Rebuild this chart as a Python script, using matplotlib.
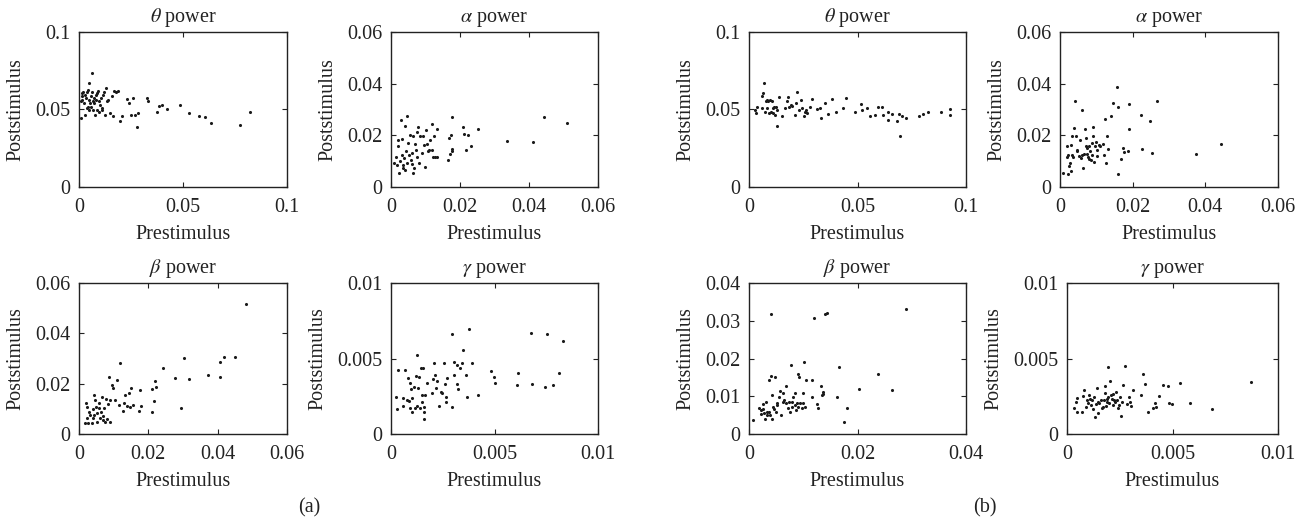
import matplotlib
matplotlib.use("Agg")
import matplotlib.pyplot as plt

plt.rcParams['font.family'] = ['Liberation Serif', 'DejaVu Serif']
plt.rcParams['mathtext.fontset'] = 'stix'

# ---------------- data ----------------
# Panel (a)
a_theta_x = [0.001, 0.0014, 0.0016, 0.0021, 0.0013, 0.001, 0.003, 0.0037, 0.004, 0.0043, 0.0045, 0.005,
             0.0053, 0.0056, 0.0061, 0.0064, 0.0066, 0.0069, 0.0074, 0.0077, 0.0082, 0.0085, 0.0088, 0.0093,
             0.0096, 0.0101, 0.0106, 0.0112, 0.0117, 0.0122, 0.0125, 0.013, 0.0133, 0.0138, 0.0149, 0.0157,
             0.0162, 0.0169, 0.0177, 0.0189, 0.0197, 0.0205, 0.023, 0.0238, 0.025, 0.0262, 0.027, 0.0281,
             0.0286, 0.0329, 0.0334, 0.0377, 0.0387, 0.0398, 0.0422, 0.0486, 0.053, 0.0575, 0.0607, 0.0634,
             0.0775, 0.0823, 0.0024, 0.0034, 0.0047, 0.0059, 0.0072, 0.008, 0.0095, 0.0109, 0.005, 0.0029]
a_theta_y = [0.0444, 0.0562, 0.0605, 0.0616, 0.0584, 0.0558, 0.0466, 0.061, 0.0509, 0.0519, 0.0627, 0.067,
             0.0541, 0.0584, 0.0616, 0.0734, 0.0552, 0.0498, 0.0573, 0.0466, 0.0562, 0.0498, 0.0605, 0.0622,
             0.0481, 0.053, 0.0573, 0.0509, 0.0594, 0.061, 0.0466, 0.0637, 0.0552, 0.0562, 0.0476, 0.0584,
             0.0455, 0.0622, 0.0612, 0.0622, 0.0423, 0.0459, 0.0567, 0.0541, 0.0466, 0.0571, 0.0466, 0.0384,
             0.0476, 0.0573, 0.0552, 0.0487, 0.0524, 0.053, 0.0502, 0.053, 0.0476, 0.0461, 0.0451, 0.0412,
             0.0401, 0.0481, 0.0541, 0.0573, 0.0562, 0.0515, 0.0541, 0.0594, 0.0552, 0.0498, 0.0498, 0.0594]

a_alpha_x = [0.001, 0.0016, 0.0019, 0.0021, 0.0023, 0.0026, 0.0028, 0.0031, 0.0031, 0.0034, 0.0036, 0.0038,
             0.0041, 0.0042, 0.0045, 0.0047, 0.005, 0.0052, 0.0055, 0.0057, 0.006, 0.0063, 0.0065, 0.0067,
             0.0069, 0.0072, 0.0074, 0.0077, 0.008, 0.0084, 0.0089, 0.0092, 0.0096, 0.0098, 0.0101, 0.0103,
             0.0106, 0.0111, 0.0118, 0.012, 0.0123, 0.0125, 0.0128, 0.0132, 0.0134, 0.0166, 0.0167, 0.0171,
             0.0173, 0.0176, 0.0178, 0.0178, 0.0209, 0.0211, 0.0217, 0.0224, 0.0233, 0.0253, 0.0335, 0.0412,
             0.0444, 0.051, 0.0014, 0.0044, 0.0076, 0.0113, 0.006]
a_alpha_y = [0.0093, 0.0086, 0.0183, 0.0157, 0.0054, 0.0099, 0.026, 0.0185, 0.0125, 0.0084, 0.0073, 0.0112,
             0.0067, 0.0238, 0.0276, 0.0093, 0.017, 0.0125, 0.0202, 0.0106, 0.009, 0.0054, 0.0198, 0.0073,
             0.0166, 0.0144, 0.0211, 0.0234, 0.0093, 0.0196, 0.0131, 0.0196, 0.0164, 0.0076, 0.0221, 0.0167,
             0.0138, 0.0142, 0.0144, 0.0243, 0.0118, 0.0196, 0.0116, 0.0116, 0.0225, 0.0106, 0.0189, 0.0129,
             0.0202, 0.0147, 0.027, 0.0138, 0.0232, 0.0206, 0.0144, 0.0202, 0.016, 0.0225, 0.0179, 0.0175,
             0.027, 0.0246, 0.0118, 0.0138, 0.0118, 0.0183, 0.0131]

a_beta_x = [0.0482, 0.0451, 0.0419, 0.0407, 0.0407, 0.0372, 0.0318, 0.0303, 0.0295, 0.0277, 0.0241, 0.0219,
            0.0221, 0.0217, 0.021, 0.0211, 0.0176, 0.0178, 0.0174, 0.0157, 0.015, 0.0145, 0.0147, 0.0138,
            0.0133, 0.013, 0.0126, 0.0117, 0.0114, 0.0111, 0.0104, 0.0099, 0.0094, 0.009, 0.0087, 0.0085,
            0.0082, 0.0078, 0.0075, 0.0072, 0.0068, 0.0065, 0.0064, 0.0061, 0.0058, 0.0053, 0.0051, 0.0049,
            0.0046, 0.0044, 0.0041, 0.0039, 0.0037, 0.0032, 0.003, 0.0027, 0.0024, 0.0022, 0.002, 0.0017,
            0.0044, 0.007, 0.0059, 0.009]
a_beta_y = [0.0515, 0.0304, 0.0304, 0.0287, 0.0225, 0.0234, 0.0217, 0.0301, 0.0103, 0.0221, 0.0264, 0.0209,
            0.0188, 0.013, 0.018, 0.0086, 0.0174, 0.0111, 0.0093, 0.0115, 0.0181, 0.0161, 0.0108, 0.0111,
            0.0155, 0.0122, 0.0093, 0.0284, 0.0115, 0.0214, 0.0135, 0.0181, 0.0194, 0.0049, 0.0227, 0.0119,
            0.0058, 0.0141, 0.0049, 0.0102, 0.0071, 0.0148, 0.0089, 0.0062, 0.0122, 0.0082, 0.0049, 0.0108,
            0.0135, 0.0075, 0.0062, 0.0098, 0.0045, 0.0075, 0.0089, 0.0045, 0.0108, 0.0065, 0.0124, 0.0042,
            0.0155, 0.0056, 0.0102, 0.0135]

a_gamma_x = [0.00024, 0.00027, 0.00035, 0.00056, 0.00059, 0.00068, 0.00076, 0.00084, 0.00087, 0.00092, 0.00092,
             0.00096, 0.001, 0.00103, 0.00111, 0.00116, 0.0012, 0.00124, 0.00127, 0.00132, 0.00137, 0.0014,
             0.00143, 0.00148, 0.00151, 0.00156, 0.00161, 0.00161, 0.00164, 0.00161, 0.00172, 0.00196, 0.00204,
             0.00209, 0.00212, 0.00217, 0.00223, 0.00233, 0.0024, 0.00246, 0.00256, 0.0026, 0.00265, 0.00268,
             0.00272, 0.00293, 0.00297, 0.00304, 0.00305, 0.00317, 0.0032, 0.00325, 0.00333, 0.00341, 0.00349,
             0.00362, 0.00365, 0.00378, 0.00389, 0.00421, 0.00484, 0.00498, 0.00502, 0.00609, 0.00614, 0.00675,
             0.00682, 0.00743, 0.00754, 0.00783, 0.00812, 0.00831]
a_gamma_y = [0.00247, 0.00163, 0.00423, 0.0024, 0.00185, 0.00427, 0.00225, 0.00368, 0.0022, 0.0017, 0.00335,
             0.00295, 0.00148, 0.00236, 0.00313, 0.0017, 0.00383, 0.00185, 0.00524, 0.00302, 0.00379, 0.0017,
             0.0044, 0.00258, 0.00214, 0.00438, 0.00148, 0.00097, 0.00258, 0.00181, 0.00339, 0.00273, 0.00363,
             0.00471, 0.0039, 0.00302, 0.00352, 0.00185, 0.0028, 0.00269, 0.00467, 0.0033, 0.00247, 0.00214,
             0.00372, 0.00181, 0.00661, 0.0039, 0.00474, 0.00328, 0.00456, 0.00295, 0.0044, 0.00471, 0.00555,
             0.0039, 0.00247, 0.00698, 0.00471, 0.00258, 0.00416, 0.00379, 0.00341, 0.00324, 0.00401, 0.0067,
             0.00328, 0.00313, 0.00659, 0.00324, 0.00407, 0.00619]

# Panel (b)
b_theta_x = [0.0028, 0.0032, 0.0035, 0.0058, 0.0061, 0.0066, 0.0069, 0.0074, 0.0078, 0.0081, 0.0084, 0.0089,
             0.0094, 0.0097, 0.01, 0.0104, 0.0109, 0.0112, 0.0115, 0.012, 0.0123, 0.0127, 0.0127, 0.014,
             0.0151, 0.0166, 0.0174, 0.0181, 0.0186, 0.0194, 0.02, 0.0212, 0.0217, 0.0223, 0.0232, 0.0238,
             0.0243, 0.0253, 0.0258, 0.0263, 0.0269, 0.0281, 0.0289, 0.0312, 0.0327, 0.0332, 0.035, 0.0366,
             0.0381, 0.0399, 0.0432, 0.0445, 0.0488, 0.0515, 0.0522, 0.0542, 0.0558, 0.0581, 0.0593, 0.0611,
             0.0616, 0.0642, 0.0642, 0.066, 0.0684, 0.0693, 0.0696, 0.0704, 0.0722, 0.0785, 0.08, 0.0826,
             0.0885, 0.0926, 0.0926]
b_theta_y = [0.0498, 0.0476, 0.0519, 0.0509, 0.0584, 0.0605, 0.0674, 0.0487, 0.0552, 0.0509, 0.0562, 0.0552,
             0.0476, 0.0562, 0.0481, 0.0558, 0.0509, 0.0476, 0.0519, 0.0466, 0.0519, 0.0395, 0.0498, 0.0579,
             0.0459, 0.0509, 0.0552, 0.0579, 0.0519, 0.053, 0.0524, 0.0466, 0.0541, 0.0616, 0.0498, 0.0562,
             0.0509, 0.0459, 0.0487, 0.0494, 0.0476, 0.0515, 0.0567, 0.0502, 0.0509, 0.0444, 0.0545, 0.0472,
             0.0567, 0.0481, 0.0509, 0.0571, 0.0487, 0.0537, 0.0494, 0.0509, 0.0459, 0.0466, 0.0519, 0.0515,
             0.0466, 0.0487, 0.0433, 0.0472, 0.0429, 0.0472, 0.0326, 0.0455, 0.0442, 0.0459, 0.047, 0.0485,
             0.0487, 0.0502, 0.0466]

b_alpha_x = [0.0009, 0.0018, 0.002, 0.0022, 0.0023, 0.0025, 0.0028, 0.0029, 0.0031, 0.0032, 0.0034, 0.0037,
             0.0039, 0.0041, 0.0044, 0.0046, 0.0048, 0.0053, 0.0055, 0.0057, 0.006, 0.0061, 0.0064, 0.0066,
             0.0069, 0.0071, 0.0072, 0.0073, 0.0075, 0.0078, 0.008, 0.0081, 0.0083, 0.0084, 0.0087, 0.0089,
             0.009, 0.0092, 0.0094, 0.0096, 0.0099, 0.0101, 0.0103, 0.0106, 0.011, 0.0119, 0.0122, 0.0124,
             0.0127, 0.0128, 0.0133, 0.014, 0.0147, 0.0158, 0.0159, 0.0161, 0.0168, 0.0174, 0.0177, 0.0186,
             0.019, 0.0191, 0.0222, 0.0225, 0.0248, 0.0254, 0.0266, 0.0373, 0.0443]
b_alpha_y = [0.0054, 0.0118, 0.0157, 0.0052, 0.0125, 0.008, 0.0093, 0.0164, 0.0061, 0.0198, 0.0125, 0.0115,
             0.023, 0.0331, 0.0198, 0.0144, 0.014, 0.0121, 0.0183, 0.0112, 0.0125, 0.0299, 0.0073, 0.0127,
             0.0224, 0.016, 0.0189, 0.0129, 0.0151, 0.0116, 0.0157, 0.0108, 0.0138, 0.0106, 0.0125, 0.017,
             0.0234, 0.0196, 0.0095, 0.0157, 0.0173, 0.0142, 0.0121, 0.0164, 0.0157, 0.0167, 0.0125, 0.0263,
             0.0093, 0.0196, 0.0147, 0.0276, 0.0324, 0.0386, 0.0052, 0.0309, 0.0108, 0.0151, 0.0134, 0.0138,
             0.0321, 0.0224, 0.0278, 0.0149, 0.0254, 0.0131, 0.0331, 0.0129, 0.0167]

b_beta_x = [0.0008, 0.0018, 0.0022, 0.0023, 0.0025, 0.0026, 0.0028, 0.0029, 0.0031, 0.0033, 0.0034, 0.0036,
            0.0037, 0.0039, 0.004, 0.0041, 0.0042, 0.0042, 0.0045, 0.0046, 0.0048, 0.0049, 0.0051, 0.0052,
            0.0056, 0.0057, 0.0059, 0.0062, 0.0063, 0.0065, 0.0068, 0.0069, 0.0071, 0.0073, 0.0076, 0.0077,
            0.0079, 0.008, 0.0082, 0.0084, 0.0085, 0.0087, 0.0088, 0.009, 0.0091, 0.0093, 0.0094, 0.0097,
            0.0099, 0.01, 0.0102, 0.0103, 0.0105, 0.0116, 0.0117, 0.0119, 0.0125, 0.0128, 0.0132, 0.0134,
            0.0136, 0.0137, 0.014, 0.0144, 0.0163, 0.0165, 0.0175, 0.018, 0.0202, 0.0238, 0.0264, 0.0289]
b_beta_y = [0.0037, 0.007, 0.0063, 0.0053, 0.0065, 0.0079, 0.0055, 0.0041, 0.0085, 0.0059, 0.005, 0.0143,
            0.0059, 0.005, 0.0319, 0.0153, 0.0103, 0.0039, 0.0072, 0.0065, 0.015, 0.0059, 0.0077, 0.0081,
            0.0097, 0.0114, 0.005, 0.0109, 0.0085, 0.009, 0.0081, 0.0127, 0.0068, 0.0085, 0.0059, 0.0182,
            0.0072, 0.0085, 0.0099, 0.0109, 0.0078, 0.0063, 0.0081, 0.0072, 0.016, 0.015, 0.0081, 0.0068,
            0.0109, 0.0081, 0.0191, 0.0072, 0.0143, 0.0099, 0.0143, 0.0308, 0.0079, 0.007, 0.0127, 0.0103,
            0.0112, 0.0107, 0.0317, 0.0321, 0.0097, 0.0178, 0.0033, 0.007, 0.0118, 0.016, 0.0116, 0.0332]

b_gamma_x = [0.00033, 0.00043, 0.00046, 0.00049, 0.0007, 0.00077, 0.00082, 0.00088, 0.00096, 0.00101, 0.00106,
             0.00109, 0.00114, 0.0012, 0.00125, 0.00128, 0.00133, 0.00137, 0.00141, 0.00145, 0.00149, 0.00153,
             0.0016, 0.00164, 0.00169, 0.00175, 0.00179, 0.0018, 0.00185, 0.00188, 0.00191, 0.00194, 0.00196,
             0.00201, 0.00204, 0.00207, 0.00212, 0.00216, 0.0022, 0.00223, 0.00227, 0.00232, 0.00235, 0.00243,
             0.00248, 0.00251, 0.00254, 0.00259, 0.00267, 0.00275, 0.00286, 0.00295, 0.00299, 0.00302, 0.00314,
             0.00349, 0.00359, 0.0037, 0.00385, 0.00406, 0.00417, 0.0042, 0.00438, 0.00457, 0.00477, 0.00485,
             0.00496, 0.00536, 0.00583, 0.00686, 0.00872]
b_gamma_y = [0.0017, 0.00214, 0.00148, 0.00236, 0.00148, 0.00251, 0.00291, 0.00181, 0.00225, 0.00207, 0.00258,
             0.00229, 0.00192, 0.00225, 0.00163, 0.00242, 0.00115, 0.00196, 0.00302, 0.00214, 0.00137, 0.00207,
             0.00225, 0.0017, 0.00181, 0.00225, 0.00273, 0.00317, 0.00185, 0.00229, 0.00214, 0.00441, 0.00242,
             0.00207, 0.0035, 0.00258, 0.00229, 0.00264, 0.00192, 0.00225, 0.00214, 0.0028, 0.00225, 0.00174,
             0.00192, 0.00242, 0.00119, 0.00214, 0.00322, 0.00449, 0.00198, 0.00247, 0.00214, 0.00185, 0.00291,
             0.00258, 0.00396, 0.0033, 0.00145, 0.0017, 0.00207, 0.00176, 0.00251, 0.00322, 0.00317, 0.00207,
             0.00198, 0.00335, 0.00207, 0.00163, 0.00346]

titles = [r"$\theta$ power", r"$\alpha$ power", r"$\beta$ power", r"$\gamma$ power"]
xlabel = "Prestimulus"
ylabel = "Poststimulus"

theta_ticks = [0, 0.05, 0.1];  theta_labels = ["0", "0.05", "0.1"]
alpha_ticks = [0, 0.02, 0.04, 0.06];  alpha_labels = ["0", "0.02", "0.04", "0.06"]
beta_b_ticks = [0, 0.01, 0.02, 0.03, 0.04];  beta_b_labels = ["0", "0.01", "0.02", "0.03", "0.04"]
beta_bx_ticks = [0, 0.02, 0.04];  beta_bx_labels = ["0", "0.02", "0.04"]
gamma_ticks = [0, 0.005, 0.01];  gamma_labels = ["0", "0.005", "0.01"]

# ---------------- figure ----------------
fig = plt.figure(figsize=(13.15, 5.24), dpi=100)
W, H = 1315, 524

def px_axes(l, r, t, b):
    return fig.add_axes([l / W, 1 - b / H, (r - l) / W, (b - t) / H])

panels = [
    ((79, 287, 32, 187), a_theta_x, a_theta_y, titles[0], theta_ticks, theta_labels, theta_ticks, theta_labels),
    ((391, 598, 32, 187), a_alpha_x, a_alpha_y, titles[1], alpha_ticks, alpha_labels, alpha_ticks, alpha_labels),
    ((79, 287, 283, 434), a_beta_x, a_beta_y, titles[2], alpha_ticks, alpha_labels, alpha_ticks, alpha_labels),
    ((391, 598, 283, 434), a_gamma_x, a_gamma_y, titles[3], gamma_ticks, gamma_labels, gamma_ticks, gamma_labels),
    ((749, 966, 32, 187), b_theta_x, b_theta_y, titles[0], theta_ticks, theta_labels, theta_ticks, theta_labels),
    ((1060, 1278, 32, 187), b_alpha_x, b_alpha_y, titles[1], alpha_ticks, alpha_labels, alpha_ticks, alpha_labels),
    ((749, 966, 283, 434), b_beta_x, b_beta_y, titles[2], beta_bx_ticks, beta_bx_labels, beta_b_ticks, beta_b_labels),
    ((1067, 1278, 283, 434), b_gamma_x, b_gamma_y, titles[3], gamma_ticks, gamma_labels, gamma_ticks, gamma_labels),
]

FS = 14.5
for box, xs, ys, title, xt, xl, yt, yl in panels:
    ax = px_axes(*box)
    ax.scatter(xs, ys, s=5, color="#1a1a1a", linewidths=0)
    ax.set_xlim(xt[0], xt[-1])
    ax.set_ylim(yt[0], yt[-1])
    ax.set_xticks(xt)
    ax.set_xticklabels(xl)
    ax.set_yticks(yt)
    ax.set_yticklabels(yl)
    ax.tick_params(axis="x", direction="in", top=True, length=3.5, width=0.8,
                   labelsize=FS, pad=8, colors="#222222")
    ax.tick_params(axis="y", direction="in", right=True, length=3.5, width=0.8,
                   labelsize=FS, pad=6, colors="#222222")
    for sp in ax.spines.values():
        sp.set_linewidth(1.0)
        sp.set_color("#222222")
    ax.set_title(title, fontsize=FS, pad=7, color="#222222")
    ax.set_xlabel(xlabel, fontsize=FS, labelpad=6, color="#222222")
    ax.set_ylabel(ylabel, fontsize=FS, labelpad=7, color="#222222")

fig.text(309 / W, 1 - 508 / H, "(a)", ha="center", va="center", fontsize=FS, color="#222222")
fig.text(985 / W, 1 - 508 / H, "(b)", ha="center", va="center", fontsize=FS, color="#222222")

fig.savefig("out.png", dpi=100)
